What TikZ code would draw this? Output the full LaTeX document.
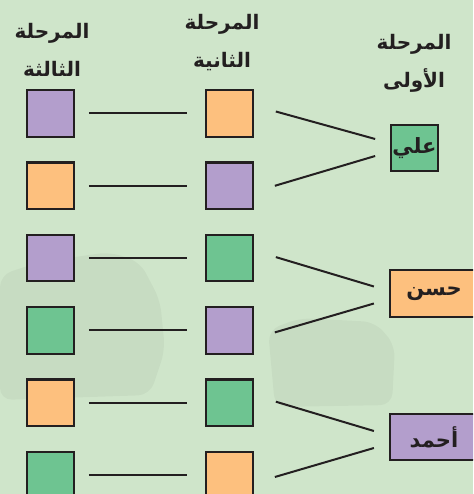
\documentclass[tikz,border=0pt]{standalone}
\usepackage{fontspec}
\usetikzlibrary{calc}
\newfontfamily\arabicfont[Script=Arabic]{DejaVu Sans}
\TeXXeTstate=1
\definecolor{bgGreen}{RGB}{207,229,202}
\definecolor{boxPurple}{RGB}{179,158,204}
\definecolor{boxOrange}{RGB}{253,192,126}
\definecolor{boxGreen}{RGB}{110,196,145}
\definecolor{lineGray}{RGB}{35,31,32}

\begin{document}
\begin{tikzpicture}[x=1pt, y=-1pt,
  cell/.style={draw=lineGray, line width=2.2pt, minimum size=46.5pt, inner sep=0pt},
  namebox/.style={cell, font=\arabicfont\bfseries\fontsize{21}{21}\selectfont, text=lineGray},
  head/.style={align=center, text=lineGray, font=\arabicfont\bfseries\fontsize{20}{38}\selectfont},
  link/.style={draw=lineGray, line width=2pt},
  shade/.style={fill=black, opacity=0.035}] % pixel grid, y downwards
  % Background
  \useasboundingbox (0,0) rectangle (473,494);
  \clip (0,0) rectangle (473,494);
  \fill[bgGreen] (0,0) rectangle (473,494);
  \fill[shade, rounded corners=12pt] (0,275) -- (40,262) -- (110,252) -- (140,262) -- (160,300)
    -- (165,350) -- (150,395) -- (0,400) -- cycle; % faded photo
  \fill[shade, rounded corners=12pt] (268,330) -- (300,318) -- (375,322) -- (395,345)
    -- (392,405) -- (275,407) -- cycle;

  % Column headings
  \node[head] (h3) at (52,50) {\beginR المرحلة\endR\\\beginR الثالثة\endR};
  \node[head] (h2) at (222,43) {\beginR المرحلة\endR\\\beginR الثانية\endR};
  \node[head] (h1) at (414,63) {\beginR المرحلة\endR\\\beginR الأولى\endR};

  % Third stage (left column)
  \node[cell, fill=boxPurple] (l1) at (50.5,113.5) {};
  \node[cell, fill=boxOrange] (l2) at (50.5,185.8) {};
  \node[cell, fill=boxPurple] (l3) at (50.5,258.1) {};
  \node[cell, fill=boxGreen]  (l4) at (50.5,330.4) {};
  \node[cell, fill=boxOrange] (l5) at (50.5,402.7) {};
  \node[cell, fill=boxGreen]  (l6) at (50.5,475.0) {};

  % Second stage (middle column)
  \node[cell, fill=boxOrange] (m1) at (229.5,113.5) {};
  \node[cell, fill=boxPurple] (m2) at (229.5,185.8) {};
  \node[cell, fill=boxGreen]  (m3) at (229.5,258.1) {};
  \node[cell, fill=boxPurple] (m4) at (229.5,330.4) {};
  \node[cell, fill=boxGreen]  (m5) at (229.5,402.7) {};
  \node[cell, fill=boxOrange] (m6) at (229.5,475.0) {};

  % First stage (names)
  \node[namebox, fill=boxGreen] (ali) at (414.5,148) {\beginR علي\endR};
  \node[namebox, fill=boxOrange, minimum width=88pt] (hasan) at (434,293.5) {\beginR حسن\endR};
  \node[namebox, fill=boxPurple, minimum width=88pt] (ahmad) at (434,437) {\beginR أحمد\endR};

  % Straight links
  \draw[link, shorten <=14pt, shorten >=18pt] (l1.east) -- (m1.west);
  \draw[link, shorten <=14pt, shorten >=18pt] (l2.east) -- (m2.west);
  \draw[link, shorten <=14pt, shorten >=18pt] (l3.east) -- (m3.west);
  \draw[link, shorten <=14pt, shorten >=18pt] (l4.east) -- (m4.west);
  \draw[link, shorten <=14pt, shorten >=18pt] (l5.east) -- (m5.west);
  \draw[link, shorten <=14pt, shorten >=18pt] (l6.east) -- (m6.west);

  % Branch links
  \draw[link] ($(m1.east)+(22,-2)$) -- ($(ali.west)+(-15,-9)$);
  \draw[link] ($(m2.east)+(21,0)$) -- ($(ali.west)+(-15,8)$);
  \draw[link] ($(m3.east)+(22,-1)$) -- ($(hasan.west)+(-15,-7)$);
  \draw[link] ($(m4.east)+(21,2)$) -- ($(hasan.west)+(-15,10)$);
  \draw[link] ($(m5.east)+(22,-1)$) -- ($(ahmad.west)+(-15,-6)$);
  \draw[link] ($(m6.east)+(21,2)$) -- ($(ahmad.west)+(-15,11)$);
\end{tikzpicture}
\end{document}
